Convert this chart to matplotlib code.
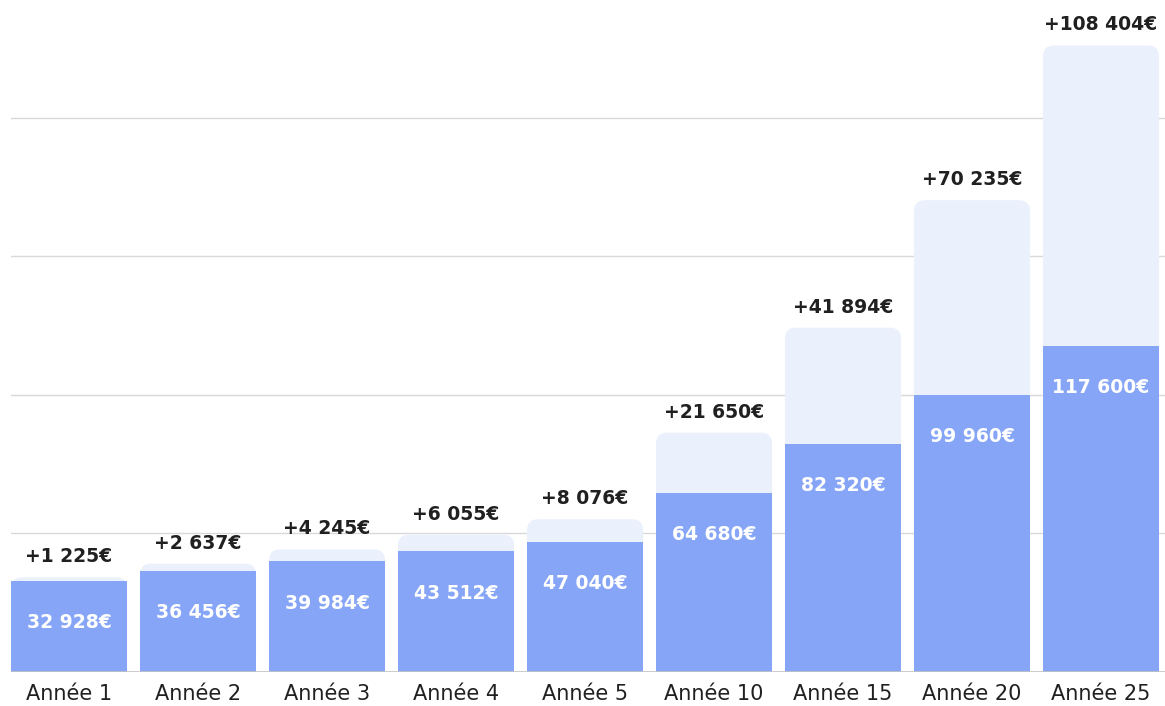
import matplotlib
matplotlib.use("Agg")
import matplotlib.pyplot as plt
from matplotlib.patches import FancyBboxPatch, Rectangle

# -------- DATA --------
categories = ["Année 1", "Année 2", "Année 3", "Année 4", "Année 5",
              "Année 10", "Année 15", "Année 20", "Année 25"]
base_values = [32928, 36456, 39984, 43512, 47040, 64680, 82320, 99960, 117600]
gain_values = [1225, 2637, 4245, 6055, 8076, 21650, 41894, 70235, 108404]


def fmt(v):
    return f"{v:,}".replace(",", " ") + "€"


# -------- STYLE --------
dark_blue = "#86a5f6"
light_blue = "#eaf1fd"
text_dark = "#202020"
grid_color = "#d9d9d9"
bar_width = 0.9

plt.rcParams["font.family"] = ["DejaVu Sans"]

W, H = 1165, 706
fig = plt.figure(figsize=(W / 100, H / 100), dpi=100)
ax = fig.add_axes([11 / W, 34 / H, 1 - 11 / W, 1 - 34 / H])

ymax = 242400
xmin, xmax = -0.45, 8.496
ax.set_xlim(xmin, xmax)
ax.set_ylim(0, ymax)

# ratio of y data units per x data unit on screen (for round corners)
ax_w_px = W - 11
ax_h_px = H - 34
aspect = (ymax / ax_h_px) / ((xmax - xmin) / ax_w_px)
radius = 11 / (ax_w_px / (xmax - xmin))

for y in [50000, 100000, 150000, 200000]:
    ax.axhline(y, color=grid_color, lw=1, zorder=0)
ax.axhline(0, color="#c4c4c4", lw=1.2, zorder=3)

for i, (b, g) in enumerate(zip(base_values, gain_values)):
    left = i - bar_width / 2
    total = b + g
    top_patch = FancyBboxPatch((left, 0), bar_width, total,
                               boxstyle=f"round,pad=0,rounding_size={radius}",
                               mutation_aspect=aspect,
                               fc=light_blue, ec="none", zorder=1)
    ax.add_patch(top_patch)
    ax.add_patch(Rectangle((left, 0), bar_width, b, fc=dark_blue, ec="none", zorder=2))

    ax.annotate("+" + fmt(g), (i, total), xytext=(0, 11),
                textcoords="offset pixels", ha="center", va="bottom",
                fontsize=13.5, fontweight="bold", color=text_dark,
                annotation_clip=False, zorder=4)
    ax.annotate(fmt(b), (i, b), xytext=(0, -42),
                textcoords="offset pixels", ha="center", va="center",
                fontsize=13.5, fontweight="bold", color="white", zorder=4)

ax.set_xticks(range(len(categories)))
ax.set_xticklabels(categories, fontsize=15, color=text_dark)
ax.tick_params(axis="x", length=0, pad=9)
ax.set_yticks([])
for s in ax.spines.values():
    s.set_visible(False)

fig.savefig("out.png", dpi=100)
